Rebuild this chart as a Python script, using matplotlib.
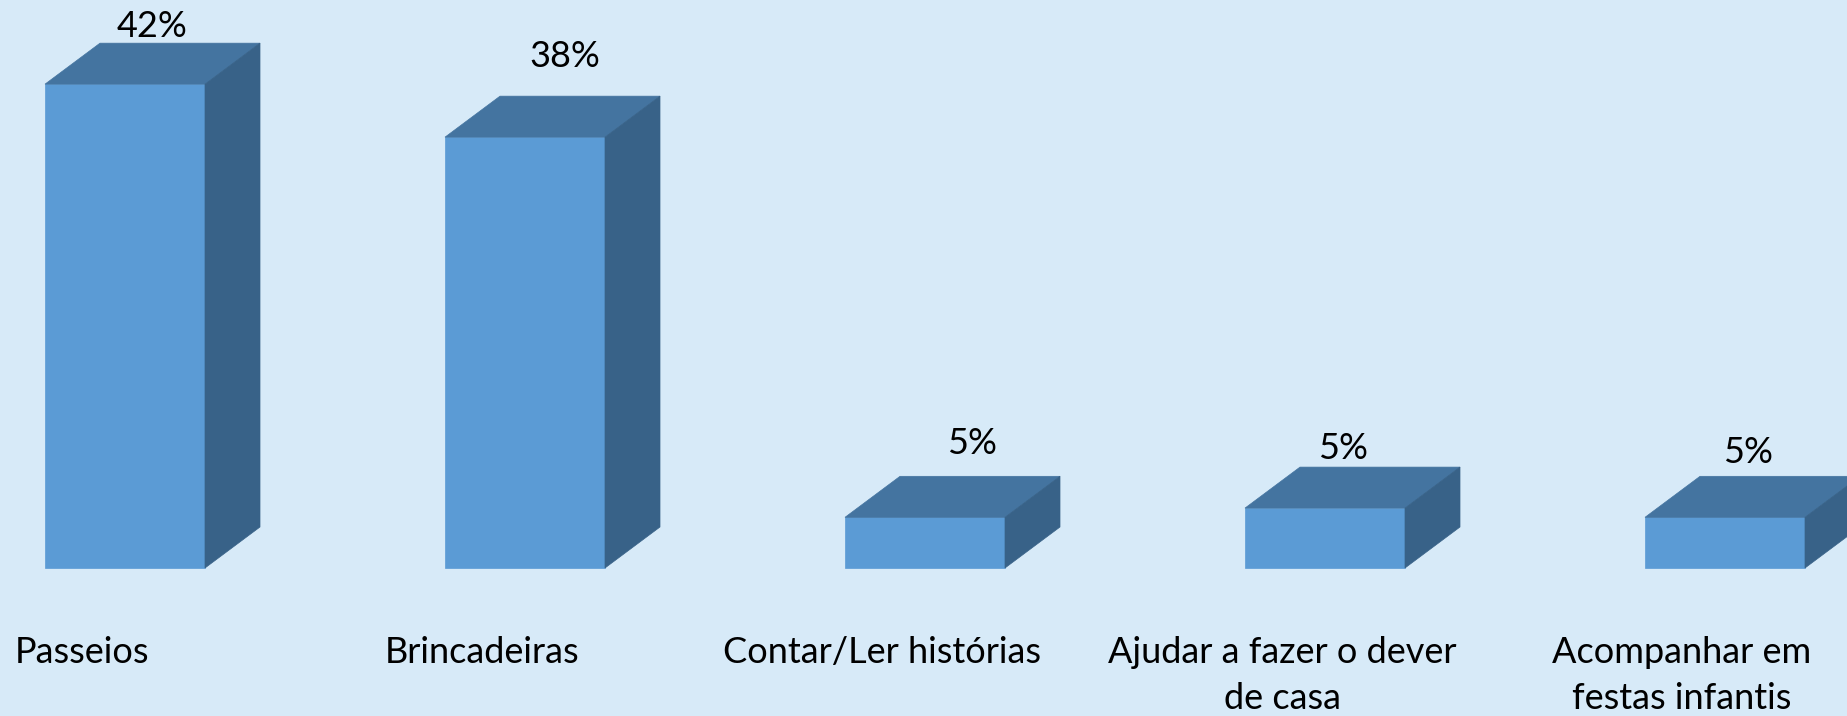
import matplotlib
matplotlib.use("Agg")
import matplotlib.pyplot as plt
from matplotlib.patches import Polygon

# data (percent)
categories = ["Passeios", "Brincadeiras", "Contar/Ler histórias",
              "Ajudar a fazer o dever\nde casa", "Acompanhar em\nfestas infantis"]
values = [42.0, 37.4, 4.4, 5.2, 4.4]
value_labels = ["42%", "38%", "5%", "5%", "5%"]

# styling
bg = "#D7EAF8"
c_front = "#5B9BD5"
c_top = "#4474A0"
c_side = "#386288"
font = ["Lato", "DejaVu Sans"]
fsize = 26

W, H, DPI = 18.47, 7.16, 100
px_per_cat = 400.0      # horizontal pixels per category
px_per_pct = 11.52      # vertical pixels per percent
x0_px, y0_px = 82.0, 148.0   # pixel position of category 0 / value 0
bar_w = 0.4
bar_shift = 0.1075      # front face sits right of category centre
depth_px = (55.0, 41.0)
label_base_px = 95.0    # first line baseline below the floor
line_px = 46.0          # line spacing of the category labels
# manual nudges of the value labels (pixels), as in the original
nudge_x = [0, 12, 20, -9, -4]
gap_y = [6, 29, 22, 8, 13]

fig = plt.figure(figsize=(W, H), dpi=DPI, facecolor=bg)
ax = fig.add_axes([0, 0, 1, 1])
ax.set_facecolor(bg)
ax.set_xlim(-x0_px / px_per_cat, (W * DPI - x0_px) / px_per_cat)
ax.set_ylim(-y0_px / px_per_pct, (H * DPI - y0_px) / px_per_pct)
ax.axis("off")

ddx = depth_px[0] / px_per_cat
ddy = depth_px[1] / px_per_pct

xs = [i + bar_shift for i in range(len(values))]
ax.bar(xs, values, width=bar_w, color=c_front, edgecolor=c_front, linewidth=0.5, zorder=2)

for i, (x, v) in enumerate(zip(xs, values)):
    l, r = x - bar_w / 2, x + bar_w / 2
    top = Polygon([(l, v), (r, v), (r + ddx, v + ddy), (l + ddx, v + ddy)],
                  closed=True, facecolor=c_top, edgecolor=c_top, linewidth=0.5, zorder=2)
    side = Polygon([(r, 0), (r + ddx, ddy), (r + ddx, v + ddy), (r, v)],
                   closed=True, facecolor=c_side, edgecolor=c_side, linewidth=0.5, zorder=2)
    ax.add_patch(top)
    ax.add_patch(side)
    ax.text(x + ddx / 2 + nudge_x[i] / px_per_cat, v + ddy + gap_y[i] / px_per_pct,
            value_labels[i], ha="center", va="baseline", fontsize=fsize,
            family=font, color="black", zorder=3)

# category labels, one text per line so the first lines share a baseline
for i, name in enumerate(categories):
    for k, line in enumerate(name.split("\n")):
        ax.text(i, -(label_base_px + k * line_px) / px_per_pct, line,
                ha="center", va="baseline", fontsize=fsize, family=font, color="black")

fig.savefig("out.png", dpi=DPI, facecolor=bg)
plt.close(fig)
